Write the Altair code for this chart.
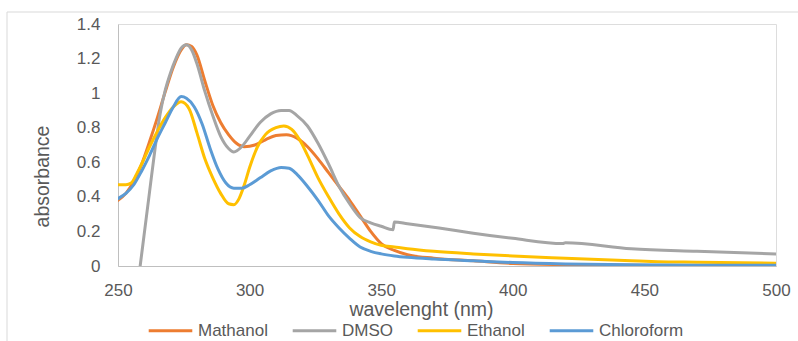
import altair as alt
import pandas as pd

series_names = ["Mathanol", "DMSO", "Ethanol", "Chloroform"]
series_colors = ["#ED7D31", "#A5A5A5", "#FFC000", "#5B9BD5"]

wl_methanol = [250, 253, 256, 259, 262, 265, 268, 271, 274, 276, 278, 280, 283, 286, 289, 292, 295, 298,
               302, 306, 310, 314, 318, 322, 326, 330, 334, 338, 342, 346, 350, 355, 360, 370, 385, 400,
               420, 445, 470, 500]
abs_methanol = [0.38, 0.42, 0.49, 0.59, 0.72, 0.86, 1.01, 1.15, 1.25, 1.28, 1.27, 1.22, 1.07, 0.93, 0.83,
                0.76, 0.71, 0.69, 0.70, 0.73, 0.755, 0.76, 0.74, 0.69, 0.62, 0.54, 0.46, 0.38, 0.29, 0.20,
                0.13, 0.09, 0.065, 0.045, 0.03, 0.015, 0.008, 0.004, 0.003, 0.003]

wl_dmso = [256, 258, 260, 262, 264, 266, 268, 270, 272, 274, 276, 278, 280, 283, 286, 289, 292, 294, 297,
           300, 304, 308, 312, 315, 318, 322, 326, 330, 334, 338, 342, 346, 350, 354.5, 355, 360, 372, 385,
           400, 419, 420, 445, 470, 500]
abs_dmso = [-0.28, -0.05, 0.19, 0.43, 0.67, 0.88, 1.02, 1.12, 1.20, 1.26, 1.28, 1.25, 1.17, 1.01, 0.87,
            0.75, 0.68, 0.66, 0.69, 0.75, 0.83, 0.88, 0.90, 0.90, 0.87, 0.81, 0.71, 0.59, 0.46, 0.36, 0.28,
            0.25, 0.23, 0.21, 0.255, 0.245, 0.22, 0.19, 0.16, 0.13, 0.135, 0.10, 0.085, 0.07]

wl_ethanol = [250, 253, 255, 257, 259, 262, 265, 268, 271, 274, 277, 280, 283, 286, 289, 292, 294, 296,
              298, 300, 303, 306, 310, 313, 316, 319, 322, 326, 330, 334, 338, 342, 346, 350, 355, 360,
              370, 385, 400, 420, 445, 455, 470, 500]
abs_ethanol = [0.47, 0.47, 0.48, 0.53, 0.59, 0.69, 0.78, 0.86, 0.92, 0.95, 0.91, 0.77, 0.62, 0.51, 0.42,
               0.36, 0.355, 0.39, 0.47, 0.57, 0.69, 0.76, 0.80, 0.81, 0.79, 0.73, 0.64, 0.51, 0.40, 0.30,
               0.22, 0.17, 0.14, 0.12, 0.11, 0.10, 0.085, 0.07, 0.058, 0.045, 0.03, 0.025, 0.022, 0.016]

wl_chloroform = [250, 253, 256, 259, 262, 265, 268, 271, 274, 276, 279, 282, 285, 288, 291, 294, 297, 300,
                 304, 308, 312, 315, 318, 322, 326, 330, 334, 338, 342, 346, 350, 355, 360, 370, 385, 400,
                 420, 445, 470, 500]
abs_chloroform = [0.39, 0.42, 0.47, 0.55, 0.64, 0.74, 0.83, 0.92, 0.98, 0.97, 0.92, 0.82, 0.68, 0.56, 0.48,
                  0.45, 0.45, 0.47, 0.51, 0.55, 0.57, 0.565, 0.53, 0.46, 0.38, 0.29, 0.22, 0.16, 0.11,
                  0.085, 0.07, 0.058, 0.05, 0.04, 0.03, 0.02, 0.012, 0.007, 0.005, 0.004]

x_ticks = [250, 300, 350, 400, 450, 500]
y_ticks = [0, 0.2, 0.4, 0.6, 0.8, 1.0, 1.2, 1.4]

frames = []
for i, (name, wl, ab) in enumerate(zip(series_names,
                                        [wl_methanol, wl_dmso, wl_ethanol, wl_chloroform],
                                        [abs_methanol, abs_dmso, abs_ethanol, abs_chloroform])):
    frames.append(pd.DataFrame({"wavelength": wl, "absorbance": ab, "solvent": name, "idx": i}))
df = pd.concat(frames, ignore_index=True)

FONT = "Liberation Sans"
TXT = "#595959"
AX = "#BFBFBF"

lines = alt.Chart(df).mark_line(strokeWidth=3, clip=True, interpolate="monotone",
                                strokeCap="round", strokeJoin="round").encode(
    x=alt.X("wavelength:Q",
            scale=alt.Scale(domain=[250, 500], nice=False, zero=False),
            axis=alt.Axis(values=x_ticks, format="d", title="wavelenght (nm)", grid=False, ticks=False,
                          domainColor=AX, domainWidth=1, labelColor=TXT, labelFontSize=17, labelFont=FONT,
                          labelPadding=16, titleFont=FONT, titleFontSize=19.5, titleColor=TXT,
                          titleFontWeight="normal", titleX=303, titleY=49, titleBaseline="alphabetic",
                          titleAlign="center", labelFlush=False)),
    y=alt.Y("absorbance:Q",
            scale=alt.Scale(domain=[0, 1.4], nice=False),
            axis=alt.Axis(values=y_ticks, format="~g", title="absorbance", grid=False, ticks=False,
                          domainColor=AX, domainWidth=1, labelColor=TXT, labelFontSize=17, labelFont=FONT,
                          labelPadding=18, titleFont=FONT, titleFontSize=19.5, titleColor=TXT,
                          titleFontWeight="normal", titleX=-70, titleY=152, titleBaseline="alphabetic",
                          titleAlign="center", titleAngle=270, labelFlush=False)),
    color=alt.Color("solvent:N",
                    scale=alt.Scale(domain=series_names, range=series_colors),
                    legend=alt.Legend(title=None, orient="none", direction="horizontal", columns=4,
                                      legendX=29, legendY=283, symbolType="stroke", symbolSize=1900,
                                      symbolStrokeWidth=3, labelFont=FONT, labelFontSize=17,
                                      labelColor=TXT, labelOffset=4, columnPadding=18, padding=0)),
    detail="idx:N",
)

border = alt.Chart(pd.DataFrame({"k": [0]})).mark_rule(color="#D9D9D9", strokeWidth=1).encode(
    x=alt.value(-111), x2=alt.value(680), y=alt.value(-12)
)
border_left = alt.Chart(pd.DataFrame({"k": [0]})).mark_rule(color="#D9D9D9", strokeWidth=1).encode(
    x=alt.value(-111), y=alt.value(-12), y2=alt.value(330)
)

chart = alt.layer(border, border_left, lines).properties(
    width=658, height=242,
    autosize=alt.AutoSizeParams(type="none"),
    padding={"left": 118, "top": 24, "right": 22, "bottom": 75},
).configure_view(stroke=None).configure(background="white")

chart.save("out.html", embed_options={"renderer": "svg", "actions": False})
